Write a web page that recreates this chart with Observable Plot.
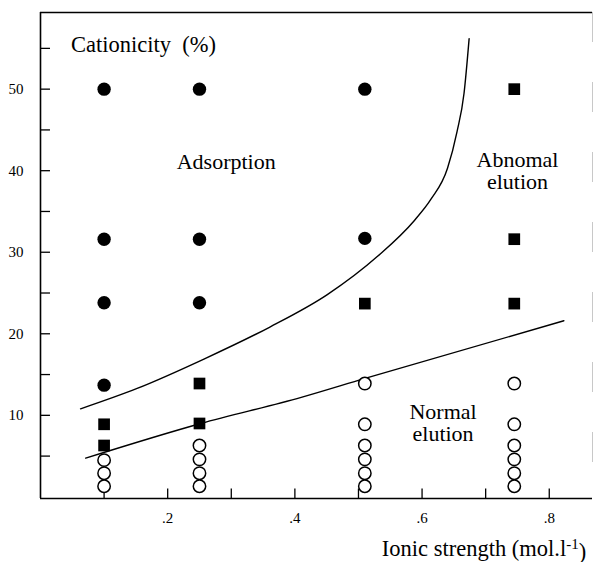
<!DOCTYPE html>
<html><head><meta charset="utf-8">
<script src="https://cdn.jsdelivr.net/npm/d3@7"></script>
<script src="https://cdn.jsdelivr.net/npm/@observablehq/plot@0.6"></script>
<style>
body{margin:0;background:#fff}
</style>
</head><body><div id="chart"></div>
<script>
// Filled circles: adsorption
const adsorption = [[0.1,50],[0.1,31.6],[0.1,23.8],[0.1,13.7],[0.25,50],[0.25,31.6],[0.25,23.8],[0.51,50],[0.51,31.7]];
// Filled squares: abnormal elution
const abnormalElution = [[0.1,8.9],[0.1,6.3],[0.25,13.9],[0.25,9.0],[0.51,23.7],[0.745,50],[0.745,31.6],[0.745,23.7]];
// Open circles: normal elution
const normalElution = [[0.1,4.5],[0.1,2.9],[0.1,1.3],[0.25,6.3],[0.25,4.6],[0.25,2.9],[0.25,1.3],
  [0.51,13.9],[0.51,8.9],[0.51,6.3],[0.51,4.6],[0.51,2.9],[0.51,1.3],
  [0.745,13.9],[0.745,8.9],[0.745,6.3],[0.745,4.6],[0.745,2.9],[0.745,1.3]];
// Boundary lines
const upperBoundary = [[0.063,10.8],[0.152,13.3],[0.257,16.9],[0.36,20.8],[0.451,24.8],[0.53,29.5],[0.588,33.9],[0.614,36.5],[0.64,40.3],[0.655,44.8],[0.666,49.5],[0.674,56.2]];
const lowerBoundary = [[0.071,4.75],[0.252,9.0],[0.41,12.2],[0.509,14.5],[0.823,21.6]];
// Axes
const xDomain = [0, 0.868];
const yDomain = [-0.2, 59.4];
const xTicks = [0.1,0.2,0.3,0.4,0.5,0.6,0.7,0.8];
const xTickLabels = [0.2,0.4,0.6,0.8];
const yTicks = [5,10,15,20,25,30,35,40,45,50,55];
const yTickLabels = [10,20,30,40,50];
// Annotations
const yTitle = [{x:0.048, y:54.5, text:"Cationicity  (%)"}];
const regionLabels = [
  {x:0.292, y:40.2, text:"Adsorption"},
  {x:0.750, y:37.7, text:"Abnomal\nelution"},
  {x:0.633, y:6.8, text:"Normal\nelution"}
];
const xTitle = [{x:0.858, y:-7.2, text:"Ionic strength (mol.l"}];

const font = "'Liberation Serif', 'DejaVu Serif', serif";
const chart = Plot.plot({
  width: 595, height: 562,
  marginLeft: 40, marginRight: 3, marginTop: 12, marginBottom: 64,
  style: {background: "#fff", color: "#000", fontFamily: font},
  x: {domain: xDomain, label: null},
  y: {domain: yDomain, label: null},
  marks: [
    Plot.ruleX([xDomain[1]], {stroke: "#c8c8c8", strokeWidth: 1, strokeDasharray: "30,40"}),
    Plot.ruleY([yDomain[1]], {stroke: "#000", strokeWidth: 1.3}),
    Plot.ruleY(yTicks, {x1: xDomain[0], x2: 0.0157, stroke: "#000", strokeWidth: 1.3}),
    Plot.ruleX(xTicks, {y1: yDomain[0], y2: yDomain[0] + 1.15, stroke: "#000", strokeWidth: 1.3}),
    Plot.axisY({ticks: yTickLabels, tickSize: 0, tickPadding: 17, fontSize: 15, tickFormat: d => String(d), label: null}),
    Plot.axisX({ticks: xTickLabels, tickSize: 0, tickPadding: 14, fontSize: 15, tickFormat: d => String(d).replace(/^0/, ""), label: null}),
    Plot.ruleX([xDomain[0]], {stroke: "#000", strokeWidth: 1.6}),
    Plot.ruleY([yDomain[0]], {stroke: "#000", strokeWidth: 1.6}),
    Plot.line(upperBoundary, {x: d => d[0], y: d => d[1], curve: "monotone-x", stroke: "#000", strokeWidth: 1.4}),
    Plot.line(lowerBoundary, {x: d => d[0], y: d => d[1], curve: "monotone-x", stroke: "#000", strokeWidth: 1.4}),
    Plot.dot(adsorption, {x: d => d[0], y: d => d[1], r: 6.7, fill: "#000", stroke: "none"}),
    Plot.dot(abnormalElution, {x: d => d[0], y: d => d[1], r: 6.6, symbol: "square", fill: "#000", stroke: "none"}),
    Plot.dot(normalElution, {x: d => d[0], y: d => d[1], r: 6.2, fill: "#fff", stroke: "#000", strokeWidth: 1.5}),
    Plot.text(yTitle, {x: "x", y: "y", text: "text", textAnchor: "start", lineAnchor: "bottom", fontSize: 22.5, fill: "#000"}),
    Plot.text(regionLabels, {x: "x", y: "y", text: "text", textAnchor: "middle", lineAnchor: "bottom", lineHeight: 1.0, fontSize: 22, fill: "#000"}),
    Plot.text(xTitle, {x: "x", y: "y", text: "text", textAnchor: "end", lineAnchor: "bottom", fontSize: 22.5, fill: "#000", clip: false})
  ]
});
chart.setAttribute("font-family", font);
document.getElementById("chart").appendChild(chart);
d3.select(chart).selectAll("text, g").attr("font-family", font).style("font-family", font);
// superscript and closing paren for the x label (kept as real text)
d3.select(chart).selectAll("text").filter(function(){ return this.textContent === xTitle[0].text; }).each(function(){
  const t = d3.select(this);
  t.append("tspan").attr("dy", "-0.45em").attr("font-size", "15").text("-1");
  t.append("tspan").attr("dy", "0.45em").text(")");
});
</script>
</body></html>
